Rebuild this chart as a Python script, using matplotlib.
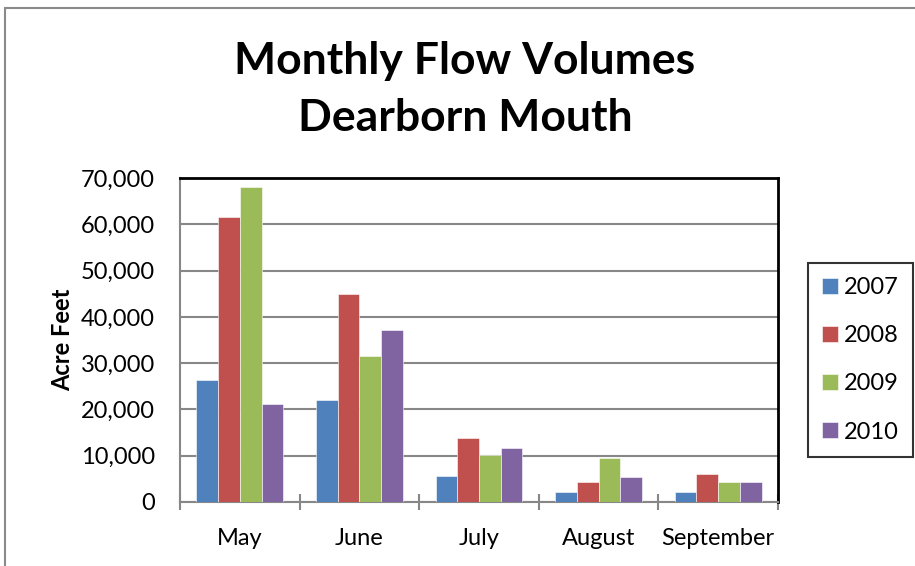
import numpy as np
import matplotlib.pyplot as plt
from matplotlib.patches import Rectangle
from matplotlib.ticker import FuncFormatter, FixedLocator

plt.rcParams['font.family'] = ['Lato', 'DejaVu Sans']

# data (acre feet)
months = ['May', 'June', 'July', 'August', 'September']
years = ['2007', '2008', '2009', '2010']
flow_2007 = [26400, 22000, 5700, 2200, 2200]
flow_2008 = [61600, 44900, 13900, 4400, 6000]
flow_2009 = [68100, 31500, 10100, 9600, 4400]
flow_2010 = [21100, 37100, 11700, 5300, 4400]
colors = ['#4F81BD', '#C0504D', '#9BBB59', '#8064A2']

series = [flow_2007, flow_2008, flow_2009, flow_2010]

fig = plt.figure(figsize=(9.15, 5.66), dpi=100)
ax = fig.add_axes([180/915, 64/566, 598/915, 324/566])

# outer chart border
fig.patches.append(Rectangle((5/915, -0.1), 2, 1 - 8/566 + 0.1, transform=fig.transFigure,
                             fill=False, edgecolor='#8a8a8a', linewidth=1.5))

x = np.arange(len(months))
w = 1 / 5.5
for i, (vals, c) in enumerate(zip(series, colors)):
    ax.bar(x + (i - 1.5) * w, vals, width=w, color=c, label=years[i],
           edgecolor='#ffffff', linewidth=0.4, zorder=3)

ax.set_xlim(-0.5, 4.5)
ax.set_ylim(0, 70000)
ax.set_yticks(np.arange(0, 70001, 10000))
ax.yaxis.set_major_formatter(FuncFormatter(lambda v, p: f'{int(v):,}'))
ax.grid(axis='y', color='#878787', linewidth=1.5, zorder=1)
ax.tick_params(axis='y', length=0, labelsize=17, pad=18)

ax.set_xticks(x)
ax.set_xticklabels(months)
ax.xaxis.set_minor_locator(FixedLocator(np.arange(-0.5, 4.6, 1)))
ax.tick_params(axis='x', which='major', length=0, labelsize=17, pad=19)
ax.tick_params(axis='x', which='minor', direction='inout', length=11, width=1.5, color='#878787')

for s in ['left', 'bottom']:
    ax.spines[s].set_color('#878787')
    ax.spines[s].set_linewidth(1.5)
for s in ['top', 'right']:
    ax.spines[s].set_color('black')
    ax.spines[s].set_linewidth(2)

ax.set_ylabel('Acre Feet', fontsize=17, fontweight='bold', labelpad=5)

fig.text(465/915, 1 - 61/566, 'Monthly Flow Volumes', ha='center', va='center',
         fontsize=32, fontweight='bold')
fig.text(465/915, 1 - 118/566, 'Dearborn Mouth', ha='center', va='center',
         fontsize=32, fontweight='bold')

handles, labels = ax.get_legend_handles_labels()
leg = fig.legend(handles, labels, loc='upper left', bbox_to_anchor=(808/915, 1 - 263/566),
                 fontsize=17, frameon=True, fancybox=False, edgecolor='black',
                 handlelength=0.68, handleheight=0.68, labelspacing=1.15,
                 borderpad=0.6, handletextpad=0.25, borderaxespad=0)
leg.get_frame().set_linewidth(1.5)

fig.savefig('out.png', dpi=100)
